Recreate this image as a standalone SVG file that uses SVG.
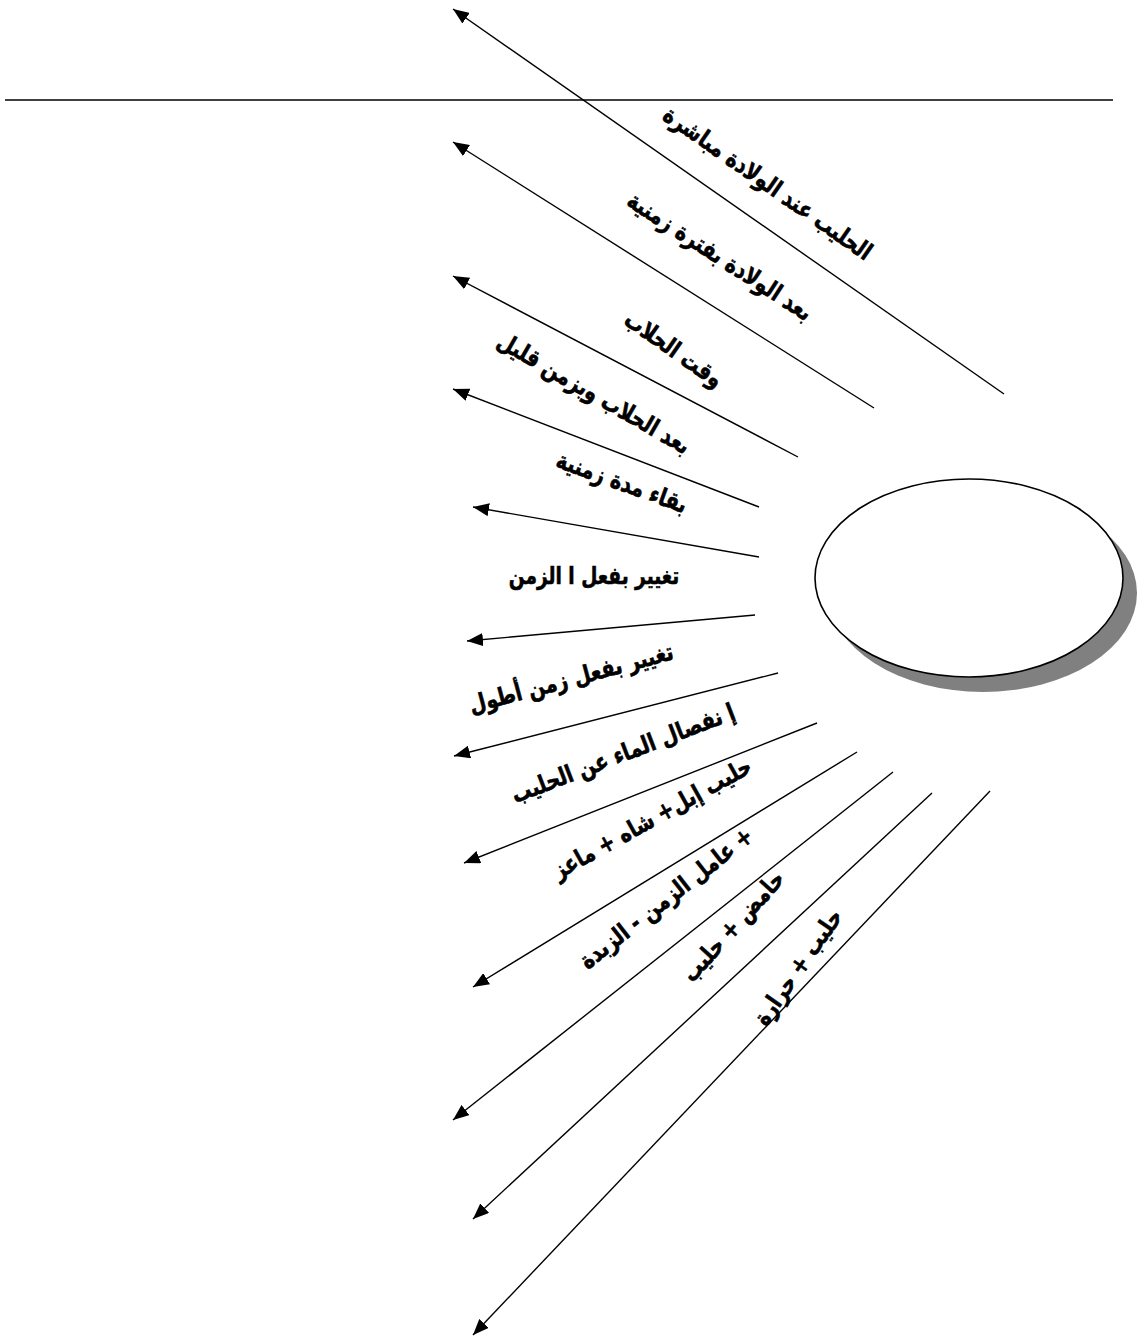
<svg xmlns="http://www.w3.org/2000/svg" width="1138" height="1341" viewBox="0 0 1138 1341">
<style>
.lbl{font-family:"DejaVu Sans","Noto Sans",sans-serif;font-weight:bold;font-size:20px;fill:#000;stroke:#000;stroke-width:0.5;text-anchor:middle;direction:rtl;unicode-bidi:embed}
.con{stroke:#000;stroke-width:1.4;fill:none;marker-end:url(#ah)}
</style>
<defs>
<marker id="ah" markerUnits="userSpaceOnUse" markerWidth="17" markerHeight="13" refX="16" refY="6.5" orient="auto">
<path d="M0,0 L16,6.5 L0,13 z" fill="#000"/>
</marker>
</defs>
<rect width="1138" height="1341" fill="#fff"/>
<g id="baseline-rule">
<line x1="5" y1="100" x2="1113" y2="100" stroke="#000" stroke-width="1.5"/>
</g>
<g id="center-node">
<ellipse cx="983" cy="593" rx="154" ry="99" fill="#808080"/>
<ellipse cx="969" cy="578" rx="154" ry="99" fill="#fff" stroke="#000" stroke-width="1.6"/>
</g>
<g id="connectors">
<line class="con" x1="1004" y1="394" x2="453" y2="9"/>
<line class="con" x1="874" y1="408" x2="453" y2="142"/>
<line class="con" x1="798" y1="457" x2="453" y2="276"/>
<line class="con" x1="759" y1="507" x2="453" y2="389"/>
<line class="con" x1="759" y1="557" x2="473" y2="507"/>
<line class="con" x1="755" y1="615" x2="467" y2="641"/>
<line class="con" x1="778" y1="673" x2="454" y2="756"/>
<line class="con" x1="817" y1="723" x2="464" y2="863"/>
<line class="con" x1="857" y1="752" x2="473" y2="987"/>
<line class="con" x1="893" y1="772" x2="453" y2="1120"/>
<line class="con" x1="932" y1="793" x2="473" y2="1219"/>
<line class="con" x1="990" y1="791" x2="473" y2="1335"/>
</g>
<g id="label-1" transform="translate(768,183) rotate(35) scale(0.97,1.2)"><text class="lbl" x="0" y="7">الحليب عند الولادة مباشرة</text></g>
<g id="label-2" transform="translate(720,256) rotate(33) scale(0.97,1.2)"><text class="lbl" x="0" y="7">بعد الولادة بفترة زمنية</text></g>
<g id="label-3" transform="translate(674,349) rotate(35) scale(0.97,1.2)"><text class="lbl" x="0" y="7">وقت الحلاب</text></g>
<g id="label-4" transform="translate(594,393) rotate(30) scale(0.97,1.2)"><text class="lbl" x="0" y="7">بعد الحلاب وبزمن قليل</text></g>
<g id="label-5" transform="translate(622,482) rotate(20) scale(0.97,1.2)"><text class="lbl" x="0" y="7">بقاء مدة زمنية</text></g>
<g id="label-6" transform="translate(594,576) scale(0.93,1.2)"><text class="lbl" x="0" y="7">تغيير بفعل ا الزمن</text></g>
<g id="label-7" transform="translate(571,678) rotate(-15) scale(0.97,1.2)"><text class="lbl" x="0" y="7">تغيير بفعل زمن أطول</text></g>
<g id="label-8" transform="translate(623,753) rotate(-21) scale(0.97,1.2)"><text class="lbl" x="0" y="7">إ نفصال الماء عن الحليب</text></g>
<g id="label-9" transform="translate(652,818) rotate(-29) scale(0.97,1.2)"><text class="lbl" x="0" y="7">حليب إبل+ شاه + ماعز</text></g>
<g id="label-10" transform="translate(666,898) rotate(-38) scale(0.97,1.2)"><text class="lbl" x="0" y="7">+ عامل الزمن - الزبدة</text></g>
<g id="label-11" transform="translate(733,926) rotate(-48) scale(0.97,1.2)"><text class="lbl" x="0" y="7">حامض + حليب</text></g>
<g id="label-12" transform="translate(798,967) rotate(-55) scale(0.97,1.2)"><text class="lbl" x="0" y="7">حليب + حرارة</text></g>
</svg>
